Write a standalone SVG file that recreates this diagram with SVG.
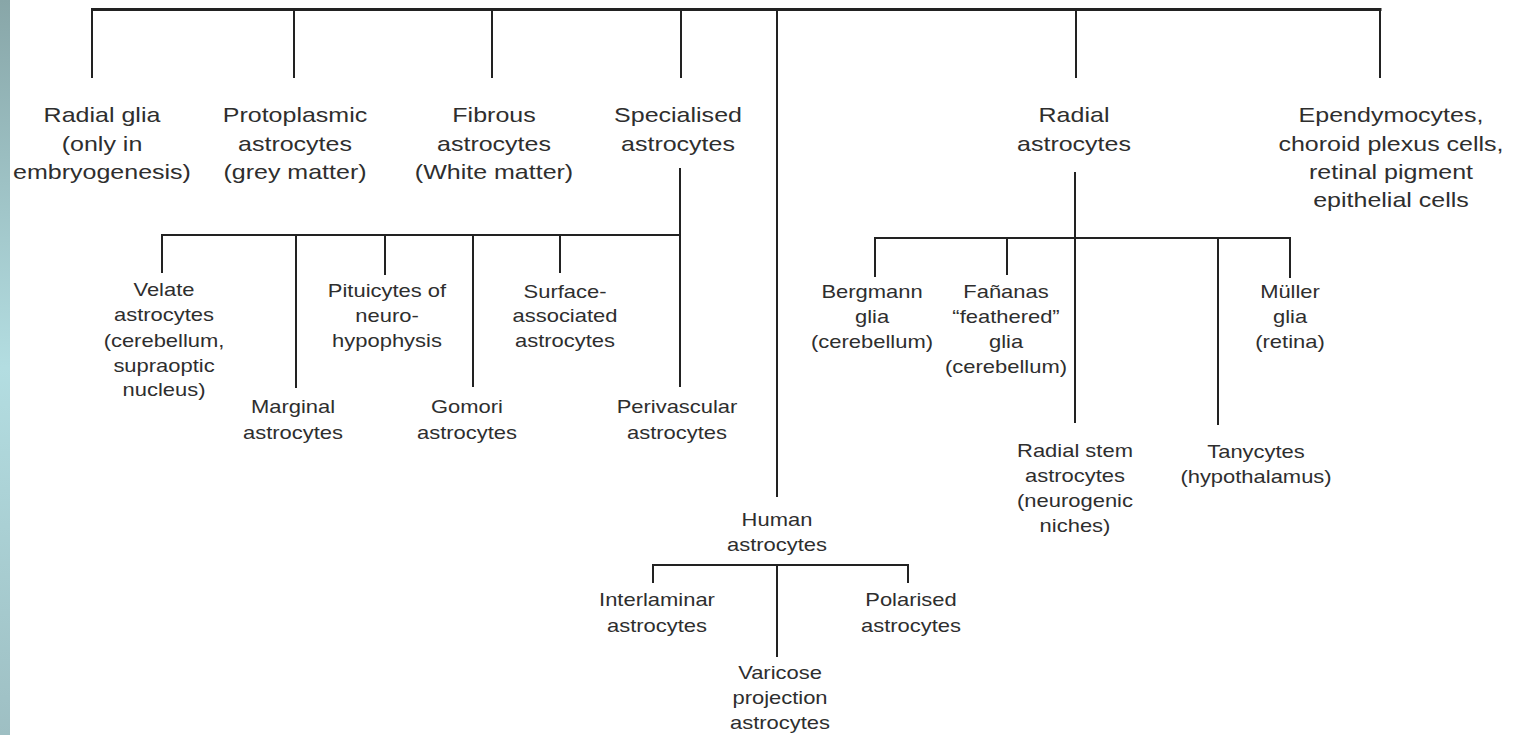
<svg xmlns="http://www.w3.org/2000/svg" width="1513" height="735" viewBox="0 0 1513 735">
<defs>
<linearGradient id="strip" x1="0" y1="0" x2="0" y2="1">
<stop offset="0" stop-color="#88a6a8"/>
<stop offset="0.5" stop-color="#b3dde1"/>
<stop offset="1" stop-color="#9ebfc3"/>
</linearGradient>
<style>
text{font-family:"Liberation Sans",Arial,Helvetica,sans-serif;fill:#2e2e2e;text-anchor:middle}
.l1{font-size:20.5px}
.l2{font-size:18px}
.c path{fill:none;stroke:#222;stroke-width:2}
.c .top{stroke-width:3}
</style>
</defs>
<rect width="1513" height="735" fill="#ffffff"/>
<g class="c" id="connectors">
<path class="top" d="M91 9.5H1381.5"/>
<path d="M92 9V78M294 9V78M492 9V78M681 9V78M777 9V497M1076 9V78M1380 9V78"/>
<path d="M680 168V387M161 235H681M162 235V273M296 235V388M385 235V275M473 235V387M560 235V273"/>
<path d="M1075 172V423M874 238H1291M875 238V277M1007 238V275M1218 238V425M1290 238V278"/>
<path d="M652 565H909M653 565V583M908 565V583M777 565V657"/>
</g>
<g id="radial-glia" transform="translate(102,0) scale(1.22,1)"><text class="l1"><tspan x="0" y="122">Radial glia</tspan><tspan x="0" y="151">(only in</tspan><tspan x="0" y="179">embryogenesis)</tspan></text></g>
<g id="protoplasmic" transform="translate(295,0) scale(1.22,1)"><text class="l1"><tspan x="0" y="122">Protoplasmic</tspan><tspan x="0" y="151">astrocytes</tspan><tspan x="0" y="179">(grey matter)</tspan></text></g>
<g id="fibrous" transform="translate(494,0) scale(1.22,1)"><text class="l1"><tspan x="0" y="122">Fibrous</tspan><tspan x="0" y="151">astrocytes</tspan><tspan x="0" y="179">(White matter)</tspan></text></g>
<g id="specialised" transform="translate(678,0) scale(1.22,1)"><text class="l1"><tspan x="0" y="122">Specialised</tspan><tspan x="0" y="151">astrocytes</tspan></text></g>
<g id="radial-astrocytes" transform="translate(1074,0) scale(1.22,1)"><text class="l1"><tspan x="0" y="122">Radial</tspan><tspan x="0" y="151">astrocytes</tspan></text></g>
<g id="ependymocytes" transform="translate(1391,0) scale(1.22,1)"><text class="l1"><tspan x="0" y="122">Ependymocytes,</tspan><tspan x="0" y="151">choroid plexus cells,</tspan><tspan x="0" y="179">retinal pigment</tspan><tspan x="0" y="207">epithelial cells</tspan></text></g>
<g id="velate" transform="translate(164,0) scale(1.22,1)"><text class="l2"><tspan x="0" y="296">Velate</tspan><tspan x="0" y="321">astrocytes</tspan><tspan x="0" y="347">(cerebellum,</tspan><tspan x="0" y="372">supraoptic</tspan><tspan x="0" y="396">nucleus)</tspan></text></g>
<g id="marginal" transform="translate(293,0) scale(1.22,1)"><text class="l2"><tspan x="0" y="413">Marginal</tspan><tspan x="0" y="439">astrocytes</tspan></text></g>
<g id="pituicytes" transform="translate(387,0) scale(1.22,1)"><text class="l2"><tspan x="0" y="297">Pituicytes of</tspan><tspan x="0" y="322">neuro-</tspan><tspan x="0" y="347">hypophysis</tspan></text></g>
<g id="gomori" transform="translate(467,0) scale(1.22,1)"><text class="l2"><tspan x="0" y="413">Gomori</tspan><tspan x="0" y="439">astrocytes</tspan></text></g>
<g id="surface" transform="translate(565,0) scale(1.22,1)"><text class="l2"><tspan x="0" y="298">Surface-</tspan><tspan x="0" y="322">associated</tspan><tspan x="0" y="347">astrocytes</tspan></text></g>
<g id="perivascular" transform="translate(677,0) scale(1.22,1)"><text class="l2"><tspan x="0" y="413">Perivascular</tspan><tspan x="0" y="439">astrocytes</tspan></text></g>
<g id="bergmann" transform="translate(872,0) scale(1.22,1)"><text class="l2"><tspan x="0" y="298">Bergmann</tspan><tspan x="0" y="323">glia</tspan><tspan x="0" y="348">(cerebellum)</tspan></text></g>
<g id="fananas" transform="translate(1006,0) scale(1.22,1)"><text class="l2"><tspan x="0" y="298">Fañanas</tspan><tspan x="0" y="323">“feathered”</tspan><tspan x="0" y="348">glia</tspan><tspan x="0" y="373">(cerebellum)</tspan></text></g>
<g id="radial-stem" transform="translate(1075,0) scale(1.22,1)"><text class="l2"><tspan x="0" y="457">Radial stem</tspan><tspan x="0" y="482">astrocytes</tspan><tspan x="0" y="507">(neurogenic</tspan><tspan x="0" y="532">niches)</tspan></text></g>
<g id="tanycytes" transform="translate(1256,0) scale(1.22,1)"><text class="l2"><tspan x="0" y="458">Tanycytes</tspan><tspan x="0" y="483">(hypothalamus)</tspan></text></g>
<g id="muller" transform="translate(1290,0) scale(1.22,1)"><text class="l2"><tspan x="0" y="298">Müller</tspan><tspan x="0" y="323">glia</tspan><tspan x="0" y="348">(retina)</tspan></text></g>
<g id="human" transform="translate(777,0) scale(1.22,1)"><text class="l2"><tspan x="0" y="526">Human</tspan><tspan x="0" y="551">astrocytes</tspan></text></g>
<g id="interlaminar" transform="translate(657,0) scale(1.22,1)"><text class="l2"><tspan x="0" y="606">Interlaminar</tspan><tspan x="0" y="632">astrocytes</tspan></text></g>
<g id="polarised" transform="translate(911,0) scale(1.22,1)"><text class="l2"><tspan x="0" y="606">Polarised</tspan><tspan x="0" y="632">astrocytes</tspan></text></g>
<g id="varicose" transform="translate(780,0) scale(1.22,1)"><text class="l2"><tspan x="0" y="679">Varicose</tspan><tspan x="0" y="704">projection</tspan><tspan x="0" y="729">astrocytes</tspan></text></g>
<rect x="0" y="0" width="10" height="735" fill="url(#strip)"/>
</svg>
